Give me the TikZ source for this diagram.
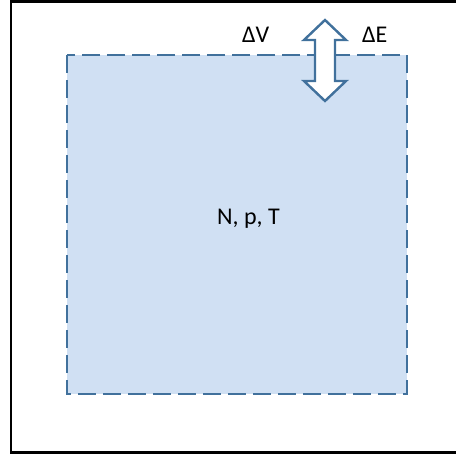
\documentclass[tikz,border=0pt]{standalone}
\usepackage{fontspec}
\setmainfont{Carlito}
\definecolor{edgeblue}{HTML}{41719C}
\definecolor{fillblue}{HTML}{D0E0F3}
\begin{document}
\begin{tikzpicture}[x=1pt,y=-1pt,
  lbl/.style={font=\fontsize{24}{28}\selectfont, inner sep=0pt, anchor=base west},
  boxline/.style={draw=edgeblue, line width=2.4pt}]
\useasboundingbox (0,0) rectangle (456,455);
% outer frame (right edge off-page)
\draw[line width=2.6pt, black] (457,1.6) -- (11,1.6) -- (11,452.6) -- (457,452.6);
% system box
\draw[boxline, fill=fillblue, dash pattern=on 18pt off 7pt] (67,55) rectangle (407,394);
% double arrow
\draw[boxline, fill=white, line join=miter]
  (325,20) -- (346,40) -- (335,40) -- (335,81) -- (346,81) -- (325,101)
  -- (304,81) -- (315,81) -- (315,40) -- (304,40) -- cycle;
\node[lbl] (dv) at (242,42.5) {ΔV};
\node[lbl] (de) at (362,42.5) {ΔE};
\node[lbl] (npt) at (217,224) {N, p, T};
\end{tikzpicture}
\end{document}
